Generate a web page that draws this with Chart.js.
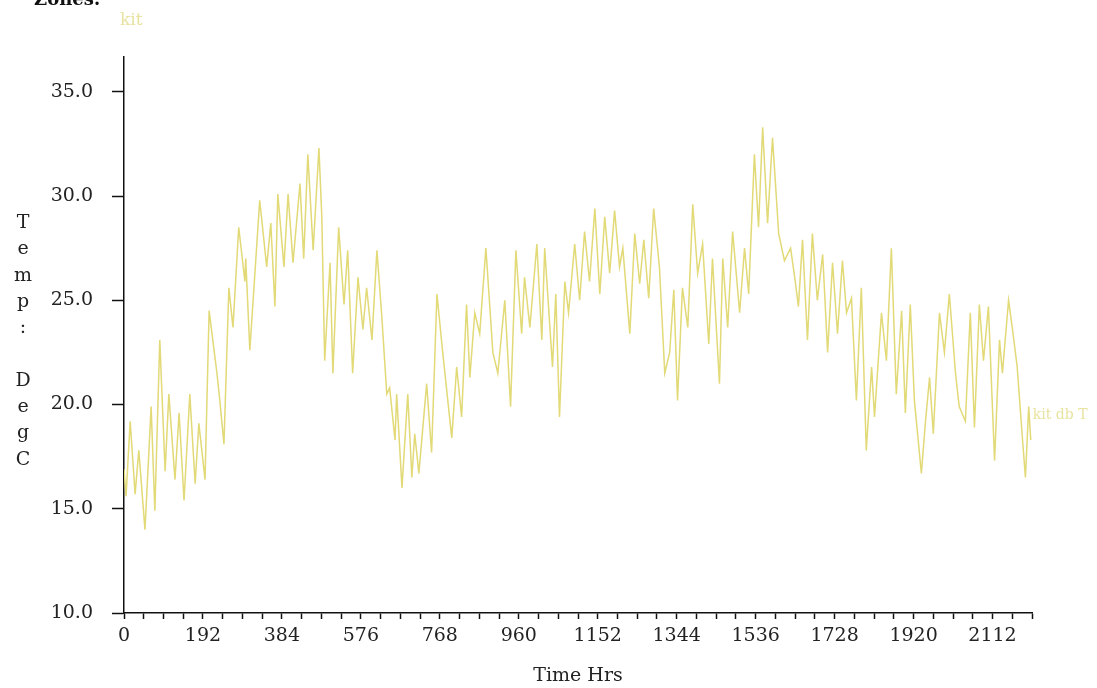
<!DOCTYPE html>
<html>
<head>
<meta charset="utf-8">
<script src="https://cdn.jsdelivr.net/npm/chart.js@4.4.1/dist/chart.umd.min.js"></script>
<style>
  body { margin: 0; background: #fff; }
  #wrap { width: 1097px; height: 688px; position: relative; }
</style>
</head>
<body>
<div id="wrap"><canvas id="kitChart"></canvas></div>
<script>
// time in hours and kitchen dry bulb temperature (deg C)
const hours = [0,5,15,27,36,51,66,75,87,100,
  109,124,134,146,160,173,182,197,207,226,
  233,243,255,265,279,294,296,306,330,347,
  357,367,374,389,399,411,428,437,447,460,
  474,481,488,501,508,522,535,544,556,569,
  581,590,603,615,627,639,646,659,663,676,
  690,700,707,717,736,748,761,775,797,809,
  821,833,841,853,865,880,897,909,926,940,
  953,967,974,987,1004,1016,1023,1042,1050,1059,
  1072,1081,1096,1108,1120,1132,1145,1157,1169,1181,
  1193,1205,1213,1230,1242,1254,1264,1276,1288,1302,
  1315,1327,1337,1346,1358,1371,1383,1395,1407,1422,
  1431,1448,1456,1468,1480,1497,1509,1519,1533,1543,
  1553,1565,1577,1592,1606,1621,1631,1640,1650,1662,
  1674,1686,1699,1711,1723,1735,1747,1757,1769,1781,
  1793,1805,1818,1825,1842,1854,1866,1878,1891,1900,
  1912,1922,1939,1949,1959,1968,1983,1995,2007,2022,
  2031,2046,2058,2068,2080,2090,2102,2117,2129,2136,
  2151,2160,2172,2185,2192,2200,2205];

const kitDbT = [16.9,15.6,19.2,15.7,17.8,14.0,19.9,14.9,23.1,16.8,
  20.5,16.4,19.6,15.4,20.5,16.2,19.1,16.4,24.5,21.5,
  20.2,18.1,25.6,23.7,28.5,25.9,27.0,22.6,29.8,26.6,
  28.7,24.7,30.1,26.6,30.1,26.8,30.6,27.0,32.0,27.4,
  32.3,29.0,22.1,26.8,21.5,28.5,24.8,27.4,21.5,26.1,
  23.6,25.6,23.1,27.4,24.2,20.5,20.8,18.3,20.5,16.0,
  20.5,16.5,18.6,16.7,21.0,17.7,25.3,22.5,18.4,21.8,
  19.4,24.8,21.3,24.4,23.4,27.5,22.5,21.5,25.0,19.9,
  27.4,23.4,26.1,23.7,27.7,23.1,27.5,21.8,25.3,19.4,
  25.9,24.4,27.7,25.0,28.3,25.9,29.4,25.3,29.0,26.3,
  29.3,26.6,27.5,23.4,28.2,25.8,27.9,25.1,29.4,26.6,
  21.5,22.5,25.5,20.2,25.6,23.7,29.6,26.3,27.7,22.9,
  27.0,21.0,27.0,23.7,28.3,24.4,27.5,25.3,32.0,28.5,
  33.3,28.7,32.8,28.2,26.9,27.5,26.1,24.7,27.9,23.1,
  28.2,25.0,27.2,22.5,26.8,23.4,26.9,24.4,25.1,20.2,
  25.6,17.8,21.8,19.4,24.4,22.1,27.5,20.5,24.5,19.6,
  24.8,20.2,16.7,19.2,21.3,18.6,24.4,22.5,25.3,21.5,
  19.9,19.2,24.4,18.9,24.8,22.1,24.7,17.3,23.1,21.5,
  25.0,23.7,21.8,18.3,16.5,19.9,18.3];

const yTicks = [10, 15, 20, 25, 30, 35];
const xTickStep = 48;      // small ticks
const xLabelStep = 192;    // labelled ticks
const xMax = 2208;
const yLabelLetters = ['T','e','m','p',':','','D','e','g','C'];

const lineColor = '#e2d977';
const serif = "'DejaVu Serif', serif";

Chart.defaults.font.family = serif;
Chart.defaults.color = '#222';

// extra texts: zone heading, series name, end label, stacked y title
const textPlugin = {
    id: 'texts',
    afterDraw(chart) {
        const ctx = chart.ctx;
        const ds = chart.getDatasetMeta(0).data;
        const last = ds[ds.length - 1];
        ctx.save();
        ctx.fillStyle = '#111';
        ctx.font = "bold 18px " + serif;
        ctx.textBaseline = 'alphabetic';
        ctx.fillText('Zones:', 34, 5);

        ctx.fillStyle = '#e8e3a0';
        ctx.font = "17px " + serif;
        ctx.textBaseline = 'middle';
        ctx.fillText('kit', 120, 21);

        ctx.font = "14px " + serif;
        ctx.fillText('kit db T', last.x + 2, 415);

        ctx.fillStyle = '#222';
        ctx.font = "19px " + serif;
        ctx.textAlign = 'center';
        yLabelLetters.forEach((c, i) => ctx.fillText(c, 23, 223 + i * 26.3));
        ctx.restore();
    }
};

new Chart(document.getElementById('kitChart').getContext('2d'), {
    type: 'line',
    data: {
        datasets: [{
            label: 'kit db T',
            data: hours.map((h, i) => ({ x: h, y: kitDbT[i] })),
            borderColor: lineColor,
            borderWidth: 1.5,
            pointRadius: 0,
            tension: 0,
            fill: false
        }]
    },
    options: {
        responsive: true,
        maintainAspectRatio: false,
        animation: false,
        layout: { padding: { top: 57, right: 65, left: 0, bottom: 0 } },
        plugins: {
            legend: { display: false },
            tooltip: { enabled: false }
        },
        scales: {
            x: {
                type: 'linear',
                min: 0,
                max: xMax,
                afterBuildTicks: (scale) => {
                    const t = [];
                    for (let v = 0; v <= xMax; v += xTickStep) t.push({ value: v });
                    scale.ticks = t;
                },
                afterFit: (scale) => { scale.height = 75; },
                ticks: {
                    autoSkip: false,
                    maxRotation: 0,
                    padding: 6,
                    font: { size: 19 },
                    color: '#222',
                    callback: (v) => (v % xLabelStep === 0 ? String(v) : '')
                },
                grid: {
                    drawOnChartArea: false,
                    drawTicks: true,
                    tickLength: 6,
                    tickWidth: 1.5,
                    tickColor: '#111'
                },
                border: { display: true, color: '#111', width: 1.5 },
                title: {
                    display: true,
                    text: 'Time Hrs',
                    font: { size: 19 },
                    color: '#222',
                    padding: { top: 0, bottom: 1 }
                }
            },
            y: {
                type: 'linear',
                min: 10,
                max: 36.67,
                afterBuildTicks: (scale) => {
                    scale.ticks = yTicks.map(v => ({ value: v }));
                },
                afterFit: (scale) => { scale.width = 124; },
                ticks: {
                    padding: 19,
                    font: { size: 19 },
                    color: '#222',
                    callback: (v) => Number(v).toFixed(1)
                },
                grid: {
                    drawOnChartArea: false,
                    drawTicks: true,
                    tickLength: 12,
                    tickWidth: 1.5,
                    tickColor: '#111'
                },
                border: { display: true, color: '#111', width: 1.5 },
                title: { display: false }
            }
        }
    },
    plugins: [textPlugin]
});
</script>
</body>
</html>
